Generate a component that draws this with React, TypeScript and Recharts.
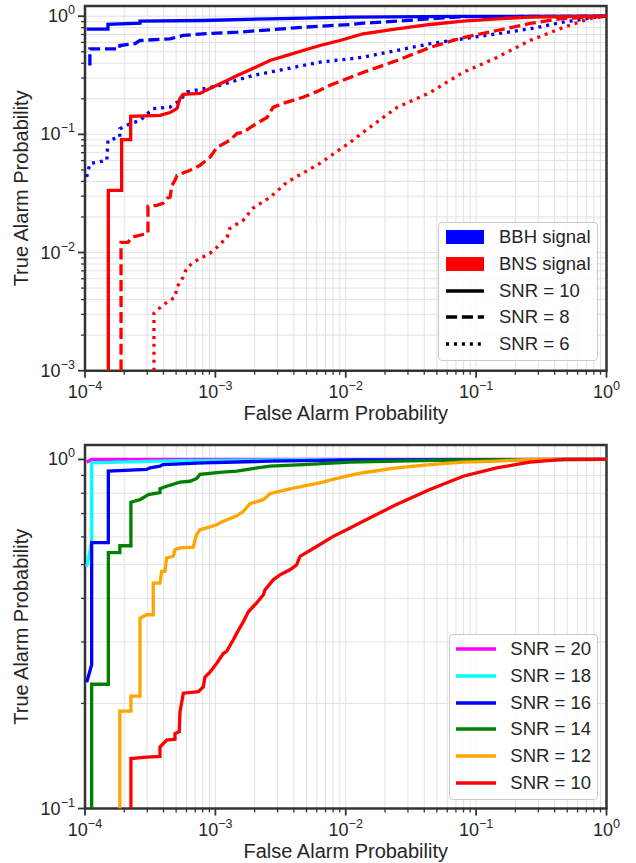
import React from "react";
import { CartesianGrid, Label, Legend, Line, LineChart, ReferenceArea, XAxis, YAxis } from "recharts";

const FONT = '"Liberation Sans", Arial, sans-serif';
const INK = "#262626";
const FRAME = "#333333";
const LW = 3.3;

// top panel: BBH (blue) / BNS (red) ROC curves, [false alarm, true alarm]
const bbhSnr10: [number, number][] = [
  [1.03e-4, 0.776], [1.5e-4, 0.776], [1.5e-4, 0.855], [2.64e-4, 0.873], [2.64e-4, 0.907],
  [8e-4, 0.92], [2.6e-3, 0.95], [0.011, 0.981], [0.08, 0.997], [1, 1],
];
const bbhSnr8: [number, number][] = [
  [1.09e-4, 0.383], [1.09e-4, 0.53], [1.85e-4, 0.53], [1.85e-4, 0.565], [2.42e-4, 0.585],
  [2.64e-4, 0.623], [4.49e-4, 0.644], [5.65e-4, 0.687], [8.03e-4, 0.71], [1.47e-3, 0.732],
  [2.62e-3, 0.767], [4.7e-3, 0.807], [0.0108, 0.851], [0.0136, 0.873], [0.0247, 0.907],
  [0.0443, 0.951], [0.0792, 0.99], [1, 1],
];
const bbhSnr6: [number, number][] = [
  [1.03e-4, 0.0436], [1.09e-4, 0.0565], [1.47e-4, 0.0603], [1.5e-4, 0.089], [1.85e-4, 0.0948],
  [1.85e-4, 0.1117], [2.21e-4, 0.123], [2.64e-4, 0.131], [3.32e-4, 0.165], [4.49e-4, 0.17],
  [5.35e-4, 0.194], [6.06e-4, 0.228], [8.03e-4, 0.243], [1.08e-3, 0.26], [1.94e-3, 0.315],
  [3.54e-3, 0.359], [6.34e-3, 0.409], [0.0108, 0.436], [0.01355, 0.45], [0.0247, 0.513],
  [0.0443, 0.585], [0.0792, 0.644], [0.1445, 0.71], [0.259, 0.782], [0.464, 0.89],
  [0.843, 0.981], [1, 1],
];
const bnsSnr10: [number, number][] = [
  [1.51e-4, 1e-3], [1.51e-4, 0.0336], [1.91e-4, 0.0336], [1.91e-4, 0.0902], [2.24e-4, 0.0902],
  [2.24e-4, 0.142], [3.76e-4, 0.145], [4.49e-4, 0.153], [5.08e-4, 0.166], [5.35e-4, 0.201],
  [5.65e-4, 0.218], [7.62e-4, 0.222], [9.09e-4, 0.245], [1.23e-3, 0.286], [1.47e-3, 0.315],
  [1.94e-3, 0.361], [2.62e-3, 0.422], [3.54e-3, 0.466], [4.7e-3, 0.513], [6.34e-3, 0.565],
  [9.03e-3, 0.623], [0.01355, 0.71], [0.0247, 0.782], [0.0443, 0.851], [0.0792, 0.907],
  [0.1445, 0.951], [0.259, 0.981], [1, 1],
];
const bnsSnr8: [number, number][] = [
  [1.89e-4, 1e-3], [1.89e-4, 0.0122], [2.14e-4, 0.0122], [2.29e-4, 0.01346], [3.04e-4, 0.01456],
  [3.04e-4, 0.0246], [3.56e-4, 0.0251], [3.96e-4, 0.0261], [4.25e-4, 0.0288], [4.49e-4, 0.0294],
  [4.65e-4, 0.0371], [4.9e-4, 0.0408], [5.08e-4, 0.045], [6.38e-4, 0.0496], [7.62e-4, 0.0547],
  [9.09e-4, 0.064], [1.03e-3, 0.0777], [1.29e-3, 0.089], [1.47e-3, 0.102], [1.63e-3, 0.104],
  [2.08e-3, 0.124], [2.49e-3, 0.139], [2.77e-3, 0.169], [3.3e-3, 0.183], [4.7e-3, 0.206],
  [6.34e-3, 0.236], [7.57e-3, 0.26], [0.01355, 0.334], [0.0247, 0.422], [0.0443, 0.544],
  [0.0792, 0.66], [0.1445, 0.757], [0.259, 0.868], [0.464, 0.957], [1, 1],
];
const bnsSnr6: [number, number][] = [
  [3.38e-4, 1e-3], [3.38e-4, 0.00307], [3.96e-4, 0.00359], [4.49e-4, 0.00395], [4.9e-4, 0.00419],
  [5.08e-4, 0.00509], [5.65e-4, 0.00618], [6.06e-4, 0.0075], [7.22e-4, 0.0086], [9.09e-4, 0.00986],
  [1.03e-3, 0.0111], [1.23e-3, 0.01346], [1.29e-3, 0.016], [1.63e-3, 0.0187], [1.94e-3, 0.0237],
  [2.62e-3, 0.0293], [3.54e-3, 0.0393], [6.34e-3, 0.0569], [0.0108, 0.0856], [0.01355, 0.104],
  [0.0247, 0.169], [0.0443, 0.226], [0.0792, 0.334], [0.1445, 0.448], [0.259, 0.623],
  [0.464, 0.802], [0.746, 0.956], [1, 1],
];

// bottom panel: BBH at several SNRs
const snr20: [number, number][] = [[1.03e-4, 0.982], [1.125e-4, 1.0], [1, 1]];
const snr18: [number, number][] = [
  [1.03e-4, 0.493], [1.125e-4, 0.577], [1.125e-4, 0.978], [5e-4, 0.992], [5e-3, 0.998], [1, 1],
];
const snr16: [number, number][] = [
  [1.03e-4, 0.23], [1.125e-4, 0.258], [1.125e-4, 0.578], [1.51e-4, 0.578], [1.51e-4, 0.926],
  [2.97e-4, 0.936], [3.15e-4, 0.946], [3.76e-4, 0.957], [3.96e-4, 0.967], [8.03e-4, 0.978],
  [2.62e-3, 0.989], [0.0108, 0.997], [1, 1],
];
const snr14: [number, number][] = [
  [1.125e-4, 0.1], [1.125e-4, 0.227], [1.51e-4, 0.227], [1.51e-4, 0.541], [1.85e-4, 0.541],
  [1.85e-4, 0.566], [2.25e-4, 0.566], [2.25e-4, 0.754], [2.64e-4, 0.767], [3.06e-4, 0.793],
  [3.76e-4, 0.804], [3.76e-4, 0.825], [4.23e-4, 0.838], [5.35e-4, 0.861], [6.38e-4, 0.866],
  [7.19e-4, 0.882], [7.62e-4, 0.906], [1.08e-3, 0.918], [1.46e-3, 0.926], [1.94e-3, 0.942],
  [2.62e-3, 0.957], [4.72e-3, 0.967], [0.01076, 0.982], [0.0245, 0.989], [0.0796, 0.997], [1, 1],
];
const snr12: [number, number][] = [
  [1.85e-4, 0.1], [1.85e-4, 0.19], [2.25e-4, 0.19], [2.25e-4, 0.21], [2.64e-4, 0.21],
  [2.64e-4, 0.351], [2.97e-4, 0.359], [3.34e-4, 0.359], [3.34e-4, 0.442], [3.76e-4, 0.442],
  [3.87e-4, 0.478], [4.1e-4, 0.478], [4.23e-4, 0.522], [4.76e-4, 0.528], [4.9e-4, 0.551],
  [5.35e-4, 0.558], [6.77e-4, 0.561], [6.98e-4, 0.589], [7.19e-4, 0.609], [7.62e-4, 0.629],
  [9.09e-4, 0.641], [1.02e-3, 0.65], [1.15e-3, 0.665], [1.46e-3, 0.69], [1.64e-3, 0.71],
  [1.84e-3, 0.747], [2.33e-3, 0.767], [2.62e-3, 0.798], [3.52e-3, 0.82], [4.72e-3, 0.838],
  [6.72e-3, 0.861], [7.56e-3, 0.872], [0.01076, 0.9], [0.0136, 0.916], [0.0245, 0.946],
  [0.0442, 0.967], [0.0796, 0.982], [0.1435, 0.989], [0.259, 1.0], [1, 1],
];
const snr10: [number, number][] = [
  [2.25e-4, 0.1], [2.25e-4, 0.139], [2.97e-4, 0.1404], [3.76e-4, 0.141], [3.76e-4, 0.15],
  [4.23e-4, 0.157], [4.9e-4, 0.158], [4.9e-4, 0.164], [5.28e-4, 0.166], [5.35e-4, 0.189],
  [5.68e-4, 0.214], [7.4e-4, 0.216], [8.07e-4, 0.223], [8.32e-4, 0.238], [9.09e-4, 0.246],
  [1.02e-3, 0.26], [1.15e-3, 0.278], [1.22e-3, 0.282], [1.37e-3, 0.304], [1.46e-3, 0.318],
  [1.64e-3, 0.343], [1.79e-3, 0.366], [2.07e-3, 0.388], [2.33e-3, 0.409], [2.4e-3, 0.423],
  [2.78e-3, 0.452], [3.13e-3, 0.467], [3.73e-3, 0.483], [4.2e-3, 0.499], [4.46e-3, 0.528],
  [5.98e-3, 0.563], [8.02e-3, 0.602], [0.01016, 0.629], [0.0136, 0.665], [0.0245, 0.743],
  [0.0442, 0.82], [0.0796, 0.895], [0.1435, 0.946], [0.259, 0.982], [0.466, 1.0], [1, 1],
];

const topLegendLabels = ["BBH signal", "BNS signal", "SNR = 10", "SNR = 8", "SNR = 6"];
const bottomLegendLabels = ["SNR = 20", "SNR = 18", "SNR = 16", "SNR = 14", "SNR = 12", "SNR = 10"];
const bottomColors = ["#ff00ff", "#00ffff", "#0000ff", "#008000", "#ffa500", "#ff0000"];

const xMajor = [1e-4, 1e-3, 1e-2, 1e-1, 1];
const yMajorTop = [1e-3, 1e-2, 1e-1, 1];
const yMajorBottom = [1e-1, 1];

const withMinors = (majors: number[]) => {
  const out: number[] = [];
  majors.forEach((m, i) => {
    out.push(m);
    if (i < majors.length - 1) for (let k = 2; k <= 9; k++) out.push(k * m);
  });
  return out;
};
const xTicks = withMinors(xMajor);
const yTicksTop = withMinors(yMajorTop);
const yTicksBottom = withMinors(yMajorBottom);

const toRows = (pts: [number, number][]) => pts.map(([x, y]) => ({ x, y }));

const isMajor = (v: number) => Math.abs(Math.log10(v) - Math.round(Math.log10(v))) < 1e-6;
const expText = (v: number) => String(Math.round(Math.log10(v))).replace("-", "\u2212");

function XTick(props: any) {
  const { x, y, payload } = props;
  const major = isMajor(payload.value);
  return (
    <g>
      <line x1={x} x2={x} y1={y} y2={y + (major ? 7 : 4)} stroke={FRAME} strokeWidth={major ? 1.8 : 1.3} />
      {major && (
        <text x={x} y={y + 27} textAnchor="middle" fontSize={18} fill={INK} fontFamily={FONT}>
          10<tspan dy={-8} fontSize={12.6}>{expText(payload.value)}</tspan>
        </text>
      )}
    </g>
  );
}

function YTick(props: any) {
  const { x, y, payload } = props;
  const major = isMajor(payload.value);
  return (
    <g>
      <line x1={x} x2={x - (major ? 7 : 4)} y1={y} y2={y} stroke={FRAME} strokeWidth={major ? 1.8 : 1.3} />
      {major && (
        <text x={x - 10} y={y + 6} textAnchor="end" fontSize={18} fill={INK} fontFamily={FONT}>
          10<tspan dy={-8} fontSize={12.6}>{expText(payload.value)}</tspan>
        </text>
      )}
    </g>
  );
}

const xLabel = (dy: number) => (p: any) => {
  const vb = p.viewBox;
  return (
    <text x={vb.x + vb.width / 2} y={vb.y + dy} textAnchor="middle" fontSize={20} fill={INK} fontFamily={FONT}>
      False Alarm Probability
    </text>
  );
};

const yLabel = (p: any) => {
  const vb = p.viewBox;
  const cx = 21;
  const cy = vb.y + vb.height / 2;
  return (
    <text x={cx} y={cy} transform={`rotate(-90 ${cx} ${cy})`} textAnchor="middle" dominantBaseline="central"
      fontSize={20} fill={INK} fontFamily={FONT}>
      True Alarm Probability
    </text>
  );
};

const legendBox: React.CSSProperties = {
  boxSizing: "border-box",
  border: "1px solid #cccccc",
  borderRadius: 4,
  background: "rgba(255,255,255,0.85)",
  fontFamily: FONT,
  fontSize: 18.5,
  color: INK,
  paddingTop: 1,
};

function TopLegend() {
  const swatch = (i: number) => {
    if (i === 0) return <rect x={0} y={6} width={38} height={14} fill="#0000ff" />;
    if (i === 1) return <rect x={0} y={6} width={38} height={14} fill="#ff0000" />;
    const dash = i === 2 ? undefined : i === 3 ? "11.1 4.8" : "3 4.95";
    return <line x1={0} x2={38} y1={13} y2={13} stroke="#000" strokeWidth={LW} strokeDasharray={dash} />;
  };
  return (
    <div style={{ ...legendBox, width: 160, height: 139 }}>
      {topLegendLabels.map((t, i) => (
        <div key={t} style={{ display: "flex", alignItems: "center", height: 26.8 }}>
          <svg width={38} height={26} style={{ marginLeft: 7, marginRight: 15 }}>{swatch(i)}</svg>
          <span>{t}</span>
        </div>
      ))}
    </div>
  );
}

function BottomLegend() {
  return (
    <div style={{ ...legendBox, width: 149, height: 166 }}>
      {bottomLegendLabels.map((t, i) => (
        <div key={t} style={{ display: "flex", alignItems: "center", height: 26.7 }}>
          <svg width={40} height={26} style={{ marginLeft: 6, marginRight: 14 }}>
            <line x1={0} x2={40} y1={13} y2={13} stroke={bottomColors[i]} strokeWidth={LW} />
          </svg>
          <span>{t}</span>
        </div>
      ))}
    </div>
  );
}

function TopPanel() {
  const series: { pts: [number, number][]; color: string; dash?: string }[] = [
    { pts: bbhSnr10, color: "#0000ff" },
    { pts: bbhSnr8, color: "#0000ff", dash: "11.1 4.8" },
    { pts: bbhSnr6, color: "#0000ff", dash: "3 4.95" },
    { pts: bnsSnr10, color: "#ff0000" },
    { pts: bnsSnr8, color: "#ff0000", dash: "11.1 4.8" },
    { pts: bnsSnr6, color: "#ff0000", dash: "3 4.95" },
  ];
  return (
    <LineChart width={636} height={430} margin={{ top: 6, right: 29.5, bottom: 0, left: 0 }}>
      <CartesianGrid stroke="#e2e2e2" strokeWidth={1} />
      <XAxis type="number" dataKey="x" scale="log" domain={[1e-4, 1]} allowDataOverflow ticks={xTicks}
        interval={0} tickSize={0} tickMargin={0} tickLine={false} axisLine={false} tick={<XTick />} height={59.3}>
        <Label content={xLabel(49)} />
      </XAxis>
      <YAxis type="number" dataKey="y" scale="log" domain={[1e-3, 1.22]} allowDataOverflow ticks={yTicksTop}
        interval={0} tickSize={0} tickMargin={0} tickLine={false} axisLine={false} tick={<YTick />} width={85}>
        <Label content={yLabel} />
      </YAxis>
      {series.map((s, i) => (
        <Line key={i} data={toRows(s.pts)} dataKey="y" type="linear" stroke={s.color} strokeWidth={LW}
          strokeDasharray={s.dash} dot={false} activeDot={false} isAnimationActive={false} />
      ))}
      <ReferenceArea x1={1e-4} x2={1} y1={1e-3} y2={1.22} fill="none" stroke={FRAME} strokeWidth={2.5} />
      <Legend layout="horizontal" align="center" verticalAlign="middle" content={() => <TopLegend />}
        wrapperStyle={{ left: 438, top: 221.7, width: 160, height: 139 }} />
    </LineChart>
  );
}

function BottomPanel() {
  const series = [snr20, snr18, snr16, snr14, snr12, snr10];
  return (
    <LineChart width={636} height={423} margin={{ top: 5, right: 29.5, bottom: 0, left: 0 }}>
      <CartesianGrid stroke="#e2e2e2" strokeWidth={1} />
      <XAxis type="number" dataKey="x" scale="log" domain={[1e-4, 1]} allowDataOverflow ticks={xTicks}
        interval={0} tickSize={0} tickMargin={0} tickLine={false} axisLine={false} tick={<XTick />} height={54.5}>
        <Label content={xLabel(49)} />
      </XAxis>
      <YAxis type="number" dataKey="y" scale="log" domain={[0.1, 1.1]} allowDataOverflow ticks={yTicksBottom}
        interval={0} tickSize={0} tickMargin={0} tickLine={false} axisLine={false} tick={<YTick />} width={85}>
        <Label content={yLabel} />
      </YAxis>
      {series.map((pts, i) => (
        <Line key={i} data={toRows(pts)} dataKey="y" type="linear" stroke={bottomColors[i]} strokeWidth={LW}
          dot={false} activeDot={false} isAnimationActive={false} />
      ))}
      <ReferenceArea x1={1e-4} x2={1} y1={0.1} y2={1.1} fill="none" stroke={FRAME} strokeWidth={2.5} />
      <Legend layout="horizontal" align="center" verticalAlign="middle" content={() => <BottomLegend />}
        wrapperStyle={{ left: 449.3, top: 194, width: 149, height: 166 }} />
    </LineChart>
  );
}

export default function App() {
  return (
    <div style={{ position: "absolute", left: 0, top: 0, width: 636, height: 863, background: "#fff", overflow: "hidden" }}>
      <div style={{ position: "absolute", left: 0, top: 0 }}>
        <TopPanel />
      </div>
      <div style={{ position: "absolute", left: 0, top: 440 }}>
        <BottomPanel />
      </div>
    </div>
  );
}
